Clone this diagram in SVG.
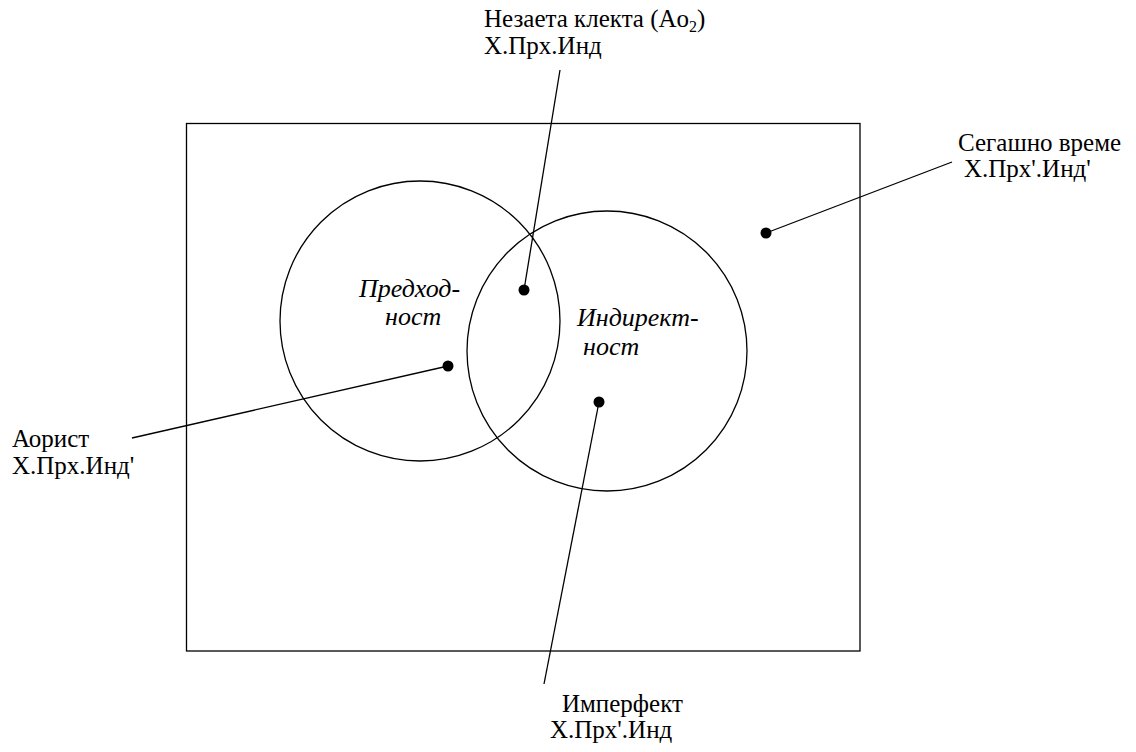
<svg xmlns="http://www.w3.org/2000/svg" width="1136" height="752" viewBox="0 0 1136 752">
<style>
.shape{fill:none;stroke:#000;stroke-width:1.3}
.lead{stroke:#000;stroke-width:1.3;fill:none}
.dot{fill:#000}
.t{font-family:'Liberation Serif','Times New Roman',serif;font-size:25px;fill:#000}
.it{font-style:italic;font-size:26px}
</style>
<rect width="1136" height="752" fill="#fff"/>
<g id="frame"><rect class="shape" x="186.5" y="123.5" width="673.5" height="527.5"/></g>
<g id="circle-predhodnost">
<circle class="shape" cx="420" cy="321" r="140"/>
<text class="t it" x="359" y="297">Предход-</text>
<text class="t it" x="385" y="325">ност</text>
</g>
<g id="circle-indirektnost">
<circle class="shape" cx="607" cy="351" r="140"/>
<text class="t it" x="577" y="326">Индирект-</text>
<text class="t it" x="583" y="355">ност</text>
</g>
<g id="connectors">
<line class="lead" x1="524" y1="290" x2="560" y2="70"/>
<line class="lead" x1="766" y1="233" x2="952" y2="162"/>
<line class="lead" x1="448" y1="366" x2="132" y2="438"/>
<line class="lead" x1="599" y1="402" x2="544" y2="684"/>
<circle class="dot" cx="524" cy="290" r="5.5"/>
<circle class="dot" cx="766" cy="233" r="5.5"/>
<circle class="dot" cx="448" cy="366" r="5.5"/>
<circle class="dot" cx="599" cy="402" r="5.5"/>
</g>
<g id="label-nezaeta">
<text class="t" x="484" y="27">Незаета клекта (Ao<tspan font-size="16" dy="5">2</tspan><tspan dy="-5">)</tspan></text>
<text class="t" x="484" y="54">Х.Прх.Инд</text>
</g>
<g id="label-segashno">
<text class="t" x="958" y="151">Сегашно време</text>
<text class="t" x="964" y="177">Х.Прх'.Инд'</text>
</g>
<g id="label-aorist">
<text class="t" x="12" y="447">Аорист</text>
<text class="t" x="12" y="474">Х.Прх.Инд'</text>
</g>
<g id="label-imperfekt">
<text class="t" x="562" y="712">Имперфект</text>
<text class="t" x="550" y="738">Х.Прх'.Инд</text>
</g>
</svg>
